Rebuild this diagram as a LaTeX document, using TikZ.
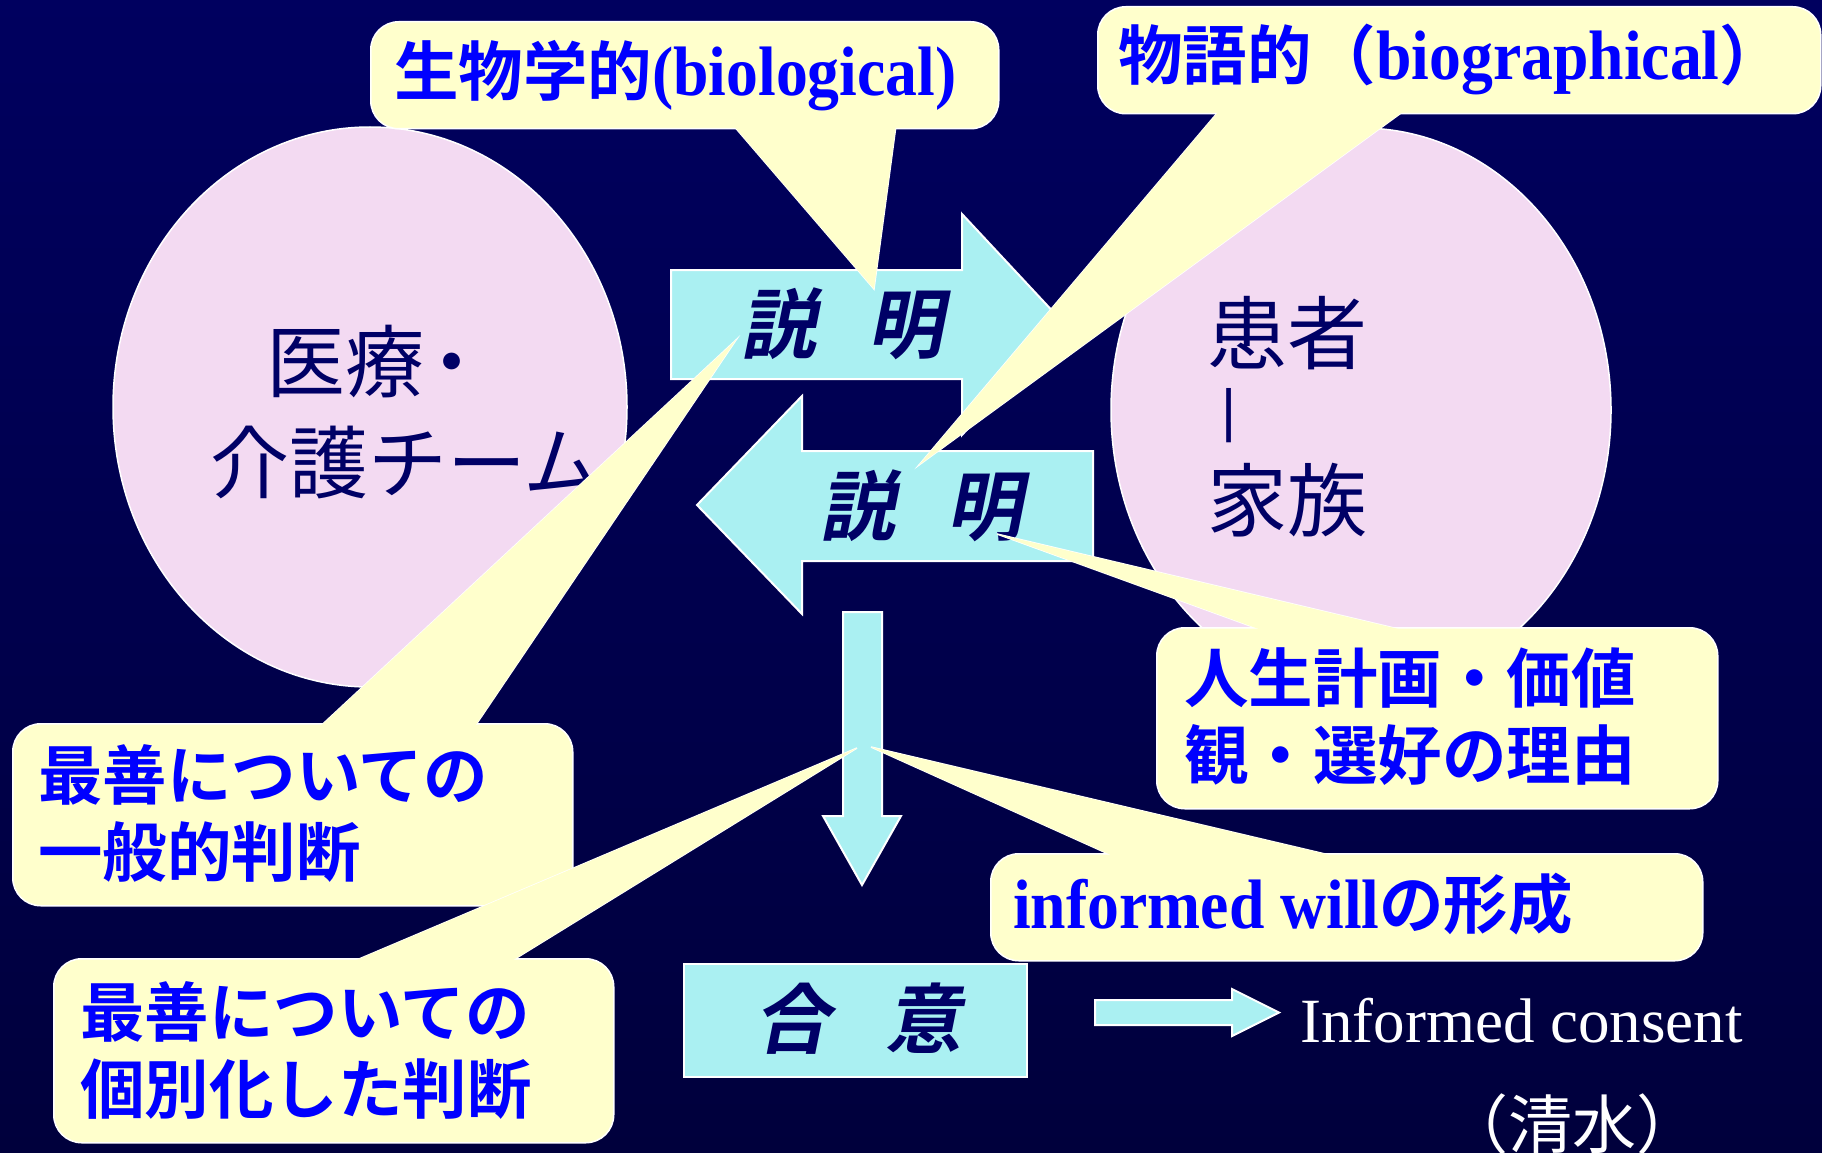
\documentclass[tikz,border=0pt]{standalone}
\usepackage{fontspec}
\usetikzlibrary{shapes.geometric}
\newfontfamily\jpr{Noto Sans CJK JP}
\newfontfamily\jpb{Noto Sans CJK JP Bold}
\newfontfamily\jpbi{Noto Sans CJK JP Bold}[FakeSlant=0.2]
\newfontfamily\tnr{Liberation Serif}
\newfontfamily\tnb{Liberation Serif Bold}[FakeStretch=0.91]
\newfontfamily\las{Liberation Sans}
\definecolor{bgtop}{RGB}{0,0,95}
\definecolor{bgbot}{RGB}{0,0,60}
\definecolor{pinkell}{RGB}{243,218,242}
\definecolor{cyanar}{RGB}{170,240,242}
\definecolor{cy}{RGB}{255,255,204}
\definecolor{tblue}{RGB}{0,0,255}
\definecolor{navy}{RGB}{0,0,102}
\tikzset{
  ellshape/.style={draw=white, line width=1.5pt, fill=pinkell},
  blockarrow/.style={draw=white, line width=2pt, fill=cyanar, line join=miter},
  callbox/.style={draw=white, line width=1.5pt, fill=cy, rounded corners=28pt, inner sep=0pt, anchor=north west},
  ptr/.style={draw=white, line width=1.5pt, fill=cy, line join=miter},
  calltext/.style={anchor=base west, inner sep=0pt, text=tblue, align=left, font=\jpb\fontsize{64.5}{77}\selectfont},
  armtext/.style={inner sep=0pt, text=navy, font=\jpbi\fontsize{76}{76}\selectfont},
}
\begin{document}
\begin{tikzpicture}[x=1pt,y=-1pt]
\useasboundingbox (0,0) rectangle (1822,1153);
\shade[top color=bgtop, bottom color=bgbot] (0,0) rectangle (1822,1153);

% circles
\node[ellshape, ellipse, minimum width=514pt, minimum height=560pt, inner sep=0pt] (team) at (370,407) {};
\node[ellshape, ellipse, minimum width=500pt, minimum height=564pt, inner sep=0pt] (pat) at (1361,410) {};
\node[anchor=base west, inner sep=0pt, align=left, text=navy, font=\jpr\fontsize{79}{101}\selectfont] (teamtxt) at (210,492) {\hspace*{56pt}医療\hspace{-12pt}・\\介護チーム};
\node[anchor=base west, inner sep=0pt, align=left, text=navy, font=\jpr\fontsize{80}{83.5}\selectfont] (pattxt) at (1207,530) {患者\\\hspace*{14pt}\raisebox{16pt}{\las\fontsize{58}{58}\selectfont |}\\家族};

% block arrows
\path[blockarrow] (671,270) -- (962,270) -- (962,214) -- (1065,324.5) -- (962,435) -- (962,379) -- (671,379) -- cycle;
\path[blockarrow] (1093,451) -- (802,451) -- (802,396) -- (697,505) -- (802,614) -- (802,561) -- (1093,561) -- cycle;
\path[blockarrow] (843,612) -- (882,612) -- (882,816) -- (901,816) -- (862,885) -- (823,816) -- (843,816) -- cycle;
\node[draw=white, line width=2pt, fill=cyanar, minimum width=343pt, minimum height=113pt, inner sep=0pt, anchor=north west] (goi) at (683,963) {};
\path[blockarrow] (1095,1000) -- (1232,1000) -- (1232,989) -- (1279,1012.5) -- (1232,1036) -- (1232,1025) -- (1095,1025) -- cycle;

\node[armtext] (s1) at (842,324) {説\hspace{0.68em}明};
\node[armtext] (s2) at (921,506) {説\hspace{0.68em}明};
\node[armtext] (g1) at (858,1019) {合\hspace{0.72em}意};

\node[anchor=base west, inner sep=0pt, text=white, font=\tnr\fontsize{63}{63}\selectfont] (ic) at (1300,1042) {Informed consent};
\node[anchor=base, inner sep=0pt, text=white, font=\jpr\fontsize{64}{64}\selectfont] (sz) at (1572,1148) {（清水）};

% tips of the callout pointers
\coordinate (tip1) at (874,289);
\coordinate (tip2) at (919,465);
\coordinate (tip3) at (736,340);
\coordinate (tip4) at (997,534);
\coordinate (tip5) at (871,747);
\coordinate (tip6) at (857,748);

% callout 1
\path[ptr] (727,118) -- (897,118) -- (tip1) -- cycle;
\node[callbox, minimum width=628pt, minimum height=107pt] (c1) at (370,21) {};
\fill[cy] (727,118) -- (897,118) -- (tip1) -- cycle;
% callout 2
\path[ptr] (1224,105) -- (1412,105) -- (tip2) -- cycle;
\node[callbox, minimum width=723pt, minimum height=107pt] (c2) at (1097,6) {};
\fill[cy] (1224,105) -- (1412,105) -- (tip2) -- cycle;
% callout 3
\path[ptr] (311,735) -- (469,735) -- (tip3) -- cycle;
\node[callbox, minimum width=560pt, minimum height=182pt] (c3) at (12,723) {};
\fill[cy] (311,735) -- (469,735) -- (tip3) -- cycle;
% callout 4
\path[ptr] (1289,640) -- (1445,640) -- (tip4) -- cycle;
\node[callbox, minimum width=561pt, minimum height=181pt] (c4) at (1156,627) {};
\fill[cy] (1289,640) -- (1445,640) -- (tip4) -- cycle;
% callout 5
\path[ptr] (1133,865) -- (1372,865) -- (tip5) -- cycle;
\node[callbox, minimum width=712pt, minimum height=107pt] (c5) at (990,853) {};
\fill[cy] (1133,865) -- (1372,865) -- (tip5) -- cycle;
% callout 6
\path[ptr] (333,970) -- (497,970) -- (tip6) -- cycle;
\node[callbox, minimum width=560pt, minimum height=184pt] (c6) at (53,958) {};
\fill[cy] (333,970) -- (497,970) -- (tip6) -- cycle;

% callout texts
\node[calltext] (t1) at (394,96) {生物学的{\tnb\fontsize{70}{70}\selectfont (biological)}};
\node[calltext] (t2) at (1118,80) {物語的（{\tnb\fontsize{70}{70}\selectfont biographical}）};
\node[calltext] (t3) at (38,876) {最善についての\\一般的判断};
\node[calltext] (t4) at (1184,779) {人生計画・価値\\観・選好の理由};
\node[calltext] (t5) at (1013,928) {{\tnb\fontsize{70}{70}\selectfont informed will}の形成};
\node[calltext] (t6) at (80,1113) {最善についての\\個別化した判断};
\end{tikzpicture}
\end{document}
